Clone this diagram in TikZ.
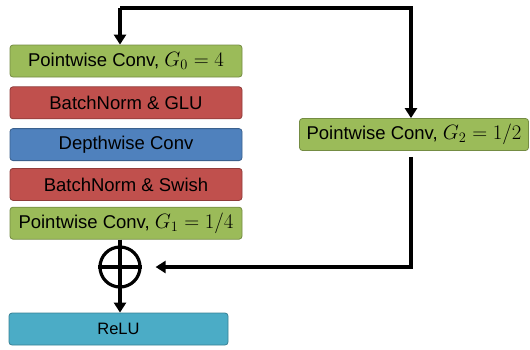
\documentclass[tikz,border=0pt]{standalone}
\usepackage{amsmath}
\usepackage{fontspec}
\setmainfont{Liberation Sans}
\usetikzlibrary{arrows.meta,calc,positioning,shapes}
\definecolor{convgreen}{HTML}{9BBB59}
\definecolor{normred}{HTML}{C0504D}
\definecolor{dwblue}{HTML}{4F81BD}
\definecolor{reluteal}{HTML}{4BACC6}
\tikzset{
block/.style={draw=#1!75!black,fill=#1,rounded corners=3pt,line width=0.8pt,
minimum width=232pt,minimum height=32pt,inner sep=0pt,
font=\fontsize{18.5}{21}\selectfont},
flow/.style={-{Triangle[length=10pt,width=12pt]},line width=3.2pt},
sumnode/.style={circle,draw,line width=3.2pt,minimum size=40pt,inner sep=0pt},
}
\newcommand{\grp}[2]{{\fontsize{20.5}{23}\selectfont$G_{#1} = #2$}}

\begin{document}
\begin{tikzpicture}[x=1pt,y=1pt,node distance=9pt]
  \useasboundingbox (0,0) rectangle (530,-349);
  \node[block=convgreen] (pw0) at (126,-61) {Pointwise Conv, \grp{0}{4}};
  \node[block=normred] (glu) [below=of pw0] {BatchNorm \& GLU};
  \node[block=dwblue] (dw) [below=of glu] {Depthwise Conv};
  \node[block=normred] (swish) [below=7pt of dw] {BatchNorm \& Swish};
  \node[block=convgreen] (pw1) [below=6pt of swish] {Pointwise Conv, \grp{1}{1/4}};
  \node[block=convgreen,minimum width=229pt] (pw2) at (414,-134.5) {Pointwise Conv, \grp{2}{1/2}};
  \node[sumnode] (sum) at (120,-267) {};
  \node[block=reluteal,minimum width=219pt,font=\fontsize{16.5}{19}\selectfont] (relu) at (118.5,-329) {ReLU};
  \coordinate (in) at (120,-8);
  \coordinate (turn) at (411,-8);

  \draw[line width=3.2pt] (sum.west) -- (sum.east);
  \draw[flow] (pw1.south -| sum) -- (relu.north -| sum);
  \draw[flow] (in) -- (in |- pw0.north);
  \draw[flow,line join=miter] (in) -- (turn) -- (turn |- pw2.north);
  \draw[flow,line join=miter] ([yshift=-6pt]pw2.south -| turn) |- ([xshift=14pt]sum.east);
\end{tikzpicture}
\end{document}
